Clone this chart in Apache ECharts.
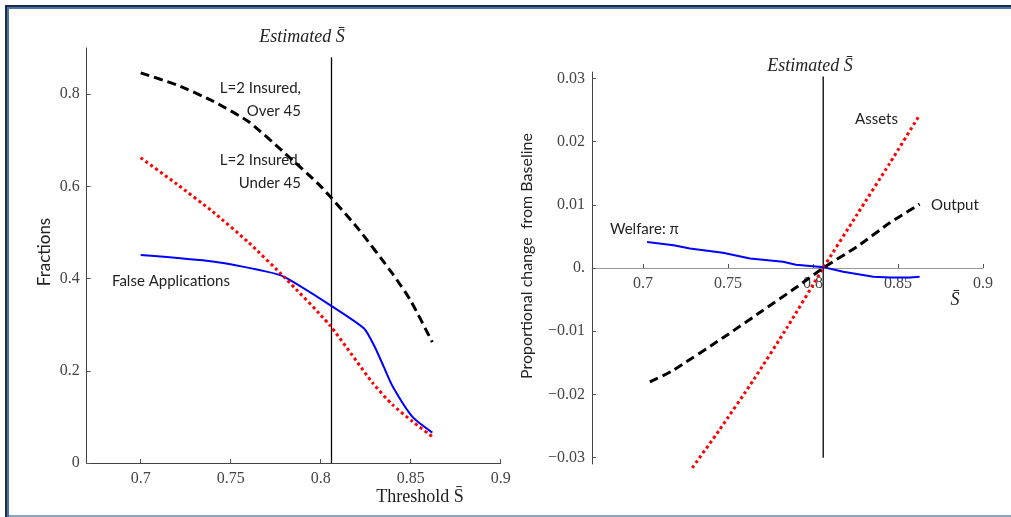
<!DOCTYPE html>
<html><head><meta charset="utf-8">
<script src="https://cdn.jsdelivr.net/npm/echarts@6/dist/echarts.min.js"></script>
<style>html,body{margin:0;padding:0;background:#fff}#c{width:1011px;height:517px}</style>
</head><body><div id="c"></div>
<script>
// ---- data ----
const estimatedS = 0.806;
const xTickValues = [0.7, 0.75, 0.8, 0.85, 0.9];
const leftYTickValues = [0, 0.2, 0.4, 0.6, 0.8];
const rightYTickValues = [-0.03, -0.02, -0.01, 0, 0.01, 0.02, 0.03];

// Left panel: fractions vs threshold
const over45X = [0.700, 0.720, 0.740, 0.760, 0.780, 0.800, 0.820, 0.840, 0.850, 0.862];
const over45Y = [0.846, 0.820, 0.785, 0.740, 0.672, 0.600, 0.512, 0.410, 0.352, 0.262];

const under45X = [0.700, 0.720, 0.740, 0.760, 0.780, 0.805, 0.829, 0.840, 0.851, 0.862];
const under45Y = [0.662, 0.605, 0.545, 0.478, 0.402, 0.299, 0.173, 0.126, 0.090, 0.057];

const falseAppX = [0.700, 0.740, 0.770, 0.780, 0.805, 0.824, 0.830, 0.835, 0.840, 0.851, 0.862];
const falseAppY = [0.451, 0.437, 0.415, 0.403, 0.343, 0.292, 0.252, 0.209, 0.166, 0.100, 0.066];

const leftVLineY = [0, 0.88];

// Right panel: proportional change from baseline
const assetsX = [0.729, 0.745, 0.765, 0.785, 0.806, 0.826, 0.845, 0.8627];
const assetsY = [-0.0316, -0.0256, -0.0177, -0.0093, 0.0, 0.0085, 0.0165, 0.0242];

const outputX = [0.704, 0.717, 0.750, 0.770, 0.790, 0.806, 0.826, 0.845, 0.8627];
const outputY = [-0.0180, -0.0163, -0.0105, -0.0068, -0.0031, 0.0, 0.0034, 0.0071, 0.0101];

const welfareX = [0.7024, 0.718, 0.7276, 0.747, 0.763, 0.7824, 0.790, 0.8066, 0.8178, 0.8355, 0.8453, 0.857, 0.8627];
const welfareY = [0.0041, 0.0036, 0.0031, 0.0024, 0.0015, 0.0010, 0.0005, 0.0001, -0.0006, -0.0014, -0.0015, -0.0015, -0.0014];

const rightVLineY = [-0.030, 0.0303];

// ---- helpers ----
const zip = (xs, ys) => xs.map((x, i) => [x, ys[i]]);
const serif = '"Liberation Serif", "DejaVu Serif", serif';
const sans = 'Lato, "Open Sans", sans-serif';
const fmtNum = v => (v === 0 ? '0' : String(+v.toFixed(4)).replace('-', '\u2212'));
const fmtRightY = v => (Math.abs(v) < 1e-9 ? '0.' : String(+v.toFixed(4)).replace('-', '\u2212'));

const chart = echarts.init(document.getElementById('c'), null, {renderer: 'canvas'});

const H = 517;
const leftGrid = {left: 86.7, right: 510.3, top: 48, bottom: 54};
const rightGrid = {left: 592, right: 28, top: 72, bottom: 53};
const rightYMin = -0.031, rightYMax = 0.031;
const rightGridH = H - rightGrid.top - rightGrid.bottom;
const rightZeroOffset = -rightGridH * (0 - rightYMin) / (rightYMax - rightYMin);

const xAxisDef = (gridIndex, lineColor, offset) => ({
  type: 'value', gridIndex, min: 0.67, max: 0.9, offset,
  axisLine: {show: true, onZero: false, lineStyle: {color: lineColor, width: 1}},
  axisTick: {show: true, inside: true, length: 4, customValues: xTickValues, lineStyle: {color: '#555'}},
  axisLabel: {customValues: xTickValues, formatter: fmtNum, fontFamily: serif, fontSize: 16, color: '#444', margin: 8},
  splitLine: {show: false}
});

const lineSeries = (xi, xs, ys, style, extra) => Object.assign({
  type: 'line', xAxisIndex: xi, yAxisIndex: xi, data: zip(xs, ys), symbol: 'none',
  lineStyle: style
}, extra || {});

const option = {
  animation: false,
  backgroundColor: '#fff',
  grid: [leftGrid, rightGrid],
  xAxis: [
    xAxisDef(0, '#444', 0),
    xAxisDef(1, '#999', rightZeroOffset)
  ],
  yAxis: [
    {
      type: 'value', gridIndex: 0, min: 0, max: 0.9,
      axisLine: {show: true, onZero: false, lineStyle: {color: '#444'}},
      axisTick: {show: true, inside: true, length: 4, customValues: leftYTickValues, lineStyle: {color: '#555'}},
      axisLabel: {customValues: leftYTickValues, formatter: fmtNum, fontFamily: serif, fontSize: 16, color: '#444', margin: 7},
      splitLine: {show: false}
    },
    {
      type: 'value', gridIndex: 1, min: rightYMin, max: rightYMax,
      axisLine: {show: true, onZero: false, lineStyle: {color: '#444'}},
      axisTick: {show: true, inside: true, length: 4, customValues: rightYTickValues, lineStyle: {color: '#555'}},
      axisLabel: {customValues: rightYTickValues, formatter: fmtRightY, fontFamily: serif, fontSize: 16, color: '#444', margin: 7},
      splitLine: {show: false}
    }
  ],
  series: [
    lineSeries(0, [estimatedS, estimatedS], leftVLineY, {color: '#000', width: 1.3}),
    lineSeries(0, falseAppX, falseAppY, {color: '#0000ff', width: 2}, {smooth: 0.2}),
    lineSeries(0, under45X, under45Y, {color: '#ff0000', width: 3, type: [3, 3]}, {smooth: 0.2}),
    lineSeries(0, over45X, over45Y, {color: '#000', width: 3, type: [9, 5]}, {smooth: 0.2}),

    lineSeries(1, [estimatedS, estimatedS], rightVLineY, {color: '#000', width: 1.3}),
    lineSeries(1, welfareX, welfareY, {color: '#0000ff', width: 2}),
    lineSeries(1, assetsX, assetsY, {color: '#ff0000', width: 3, type: [3, 3]}, {smooth: 0.2, clip: false}),
    lineSeries(1, outputX, outputY, {color: '#000', width: 3, type: [9, 5]}, {smooth: 0.2})
  ],
  graphic: [
    // frame
    {type: 'rect', shape: {x: 5, y: 5, width: 1006, height: 2}, style: {fill: '#1d2c47'}, silent: true},
    {type: 'rect', shape: {x: 7, y: 7, width: 1004, height: 2}, style: {fill: '#4f72a6'}, silent: true},
    {type: 'rect', shape: {x: 5, y: 5, width: 2, height: 512}, style: {fill: '#1d2c47'}, silent: true},
    {type: 'rect', shape: {x: 7, y: 7, width: 2, height: 510}, style: {fill: '#4f72a6'}, silent: true},
    {type: 'rect', shape: {x: 9, y: 515, width: 1002, height: 2}, style: {fill: '#8da2c0'}, silent: true},

    // left panel texts
    {type: 'text', x: 302, y: 37, style: {text: 'Estimated S\u0304', font: 'italic 18px ' + serif, fill: '#222', align: 'center', verticalAlign: 'middle'}},
    {type: 'text', x: 45, y: 252, rotation: Math.PI / 2, style: {text: 'Fractions', font: '17px ' + sans, fill: '#222', align: 'center', verticalAlign: 'middle'}},
    {type: 'text', x: 420, y: 497, style: {text: 'Threshold S\u0304', font: '18px ' + serif, fill: '#222', align: 'center', verticalAlign: 'middle'}},
    {type: 'text', x: 301, y: 88, style: {text: 'L=2 Insured,', font: '15px ' + sans, fill: '#222', align: 'right', verticalAlign: 'middle'}},
    {type: 'text', x: 301, y: 111, style: {text: 'Over 45', font: '15px ' + sans, fill: '#222', align: 'right', verticalAlign: 'middle'}},
    {type: 'text', x: 301, y: 160, style: {text: 'L=2 Insured,', font: '15px ' + sans, fill: '#222', align: 'right', verticalAlign: 'middle'}},
    {type: 'text', x: 301, y: 183, style: {text: 'Under 45', font: '15px ' + sans, fill: '#222', align: 'right', verticalAlign: 'middle'}},
    {type: 'text', x: 112, y: 281, style: {text: 'False Applications', font: '15px ' + sans, fill: '#222', align: 'left', verticalAlign: 'middle'}},

    // right panel texts
    {type: 'text', x: 810, y: 66, style: {text: 'Estimated S\u0304', font: 'italic 18px ' + serif, fill: '#222', align: 'center', verticalAlign: 'middle'}},
    {type: 'text', x: 527, y: 256, rotation: Math.PI / 2, style: {text: 'Proportional change  from Baseline', font: '16px ' + sans, fill: '#222', align: 'center', verticalAlign: 'middle'}},
    {type: 'text', x: 955, y: 300, style: {text: 'S\u0304', font: 'italic 18px ' + serif, fill: '#222', align: 'center', verticalAlign: 'middle'}},
    {type: 'text', x: 855, y: 119, style: {text: 'Assets', font: '15px ' + sans, fill: '#222', align: 'left', verticalAlign: 'middle'}},
    {type: 'text', x: 931, y: 205, style: {text: 'Output', font: '15px ' + sans, fill: '#222', align: 'left', verticalAlign: 'middle'}},
    {type: 'text', x: 610, y: 229, style: {text: 'Welfare: \u03c0', font: '15px ' + sans, fill: '#222', align: 'left', verticalAlign: 'middle'}}
  ]
};
chart.setOption(option);
</script>
</body></html>
